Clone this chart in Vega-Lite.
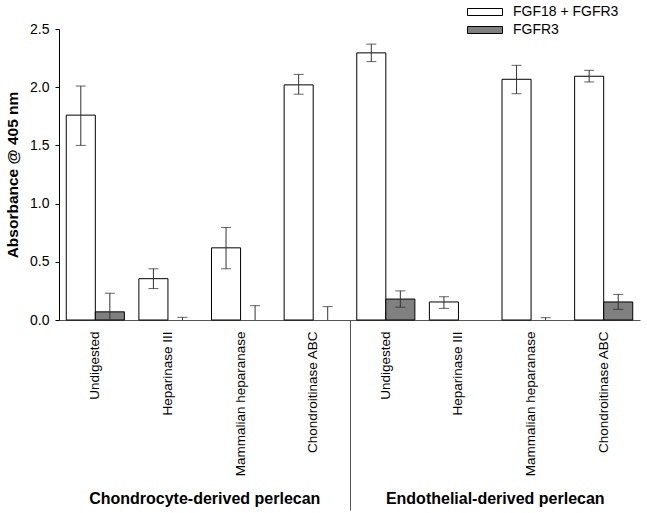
{
  "$schema": "https://vega.github.io/schema/vega-lite/v6.json",
  "config": {
    "font": "Liberation Sans",
    "view": {"stroke": null},
    "axis": {"grid": false, "labelColor": "black", "titleColor": "black"}
  },
  "layer": [
    {
      "data": {
        "values": [
          {"cat": "C|Undigested", "group": "Chondrocyte-derived perlecan", "treatment": "Undigested", "series": "FGF18 + FGFR3", "value": 1.76, "lo": 1.50, "hi": 2.01},
          {"cat": "C|Undigested", "group": "Chondrocyte-derived perlecan", "treatment": "Undigested", "series": "FGFR3", "value": 0.07, "lo": 0, "hi": 0.23},
          {"cat": "C|Heparinase III", "group": "Chondrocyte-derived perlecan", "treatment": "Heparinase III", "series": "FGF18 + FGFR3", "value": 0.355, "lo": 0.27, "hi": 0.44},
          {"cat": "C|Heparinase III", "group": "Chondrocyte-derived perlecan", "treatment": "Heparinase III", "series": "FGFR3", "value": 0, "lo": 0, "hi": 0.023},
          {"cat": "C|Mammalian heparanase", "group": "Chondrocyte-derived perlecan", "treatment": "Mammalian heparanase", "series": "FGF18 + FGFR3", "value": 0.62, "lo": 0.44, "hi": 0.795},
          {"cat": "C|Mammalian heparanase", "group": "Chondrocyte-derived perlecan", "treatment": "Mammalian heparanase", "series": "FGFR3", "value": 0, "lo": 0, "hi": 0.123},
          {"cat": "C|Chondroitinase ABC", "group": "Chondrocyte-derived perlecan", "treatment": "Chondroitinase ABC", "series": "FGF18 + FGFR3", "value": 2.02, "lo": 1.94, "hi": 2.11},
          {"cat": "C|Chondroitinase ABC", "group": "Chondrocyte-derived perlecan", "treatment": "Chondroitinase ABC", "series": "FGFR3", "value": 0, "lo": 0, "hi": 0.115},
          {"cat": "E|Undigested", "group": "Endothelial-derived perlecan", "treatment": "Undigested", "series": "FGF18 + FGFR3", "value": 2.295, "lo": 2.22, "hi": 2.37},
          {"cat": "E|Undigested", "group": "Endothelial-derived perlecan", "treatment": "Undigested", "series": "FGFR3", "value": 0.18, "lo": 0.11, "hi": 0.25},
          {"cat": "E|Heparinase III", "group": "Endothelial-derived perlecan", "treatment": "Heparinase III", "series": "FGF18 + FGFR3", "value": 0.155, "lo": 0.10, "hi": 0.20},
          {"cat": "E|Heparinase III", "group": "Endothelial-derived perlecan", "treatment": "Heparinase III", "series": "FGFR3", "value": 0, "lo": null, "hi": null},
          {"cat": "E|Mammalian heparanase", "group": "Endothelial-derived perlecan", "treatment": "Mammalian heparanase", "series": "FGF18 + FGFR3", "value": 2.068, "lo": 1.944, "hi": 2.188},
          {"cat": "E|Mammalian heparanase", "group": "Endothelial-derived perlecan", "treatment": "Mammalian heparanase", "series": "FGFR3", "value": 0, "lo": 0, "hi": 0.02},
          {"cat": "E|Chondroitinase ABC", "group": "Endothelial-derived perlecan", "treatment": "Chondroitinase ABC", "series": "FGF18 + FGFR3", "value": 2.094, "lo": 2.045, "hi": 2.145},
          {"cat": "E|Chondroitinase ABC", "group": "Endothelial-derived perlecan", "treatment": "Chondroitinase ABC", "series": "FGFR3", "value": 0.155, "lo": 0.092, "hi": 0.22}
        ]
      },
      "width": 581,
      "height": 291,
      "encoding": {
        "x": {
          "field": "cat", "type": "nominal", "sort": null,
          "scale": {"paddingInner": 0.2, "paddingOuter": 0.1},
          "axis": {
            "title": null, "orient": "bottom", "ticks": false,
            "labelAngle": -90, "labelFontSize": 13.5, "labelPadding": 11,
            "labelExpr": "split(datum.value, '|')[1]",
            "domainColor": "#555", "domainWidth": 1
          }
        },
        "xOffset": {"field": "series", "type": "nominal", "sort": ["FGF18 + FGFR3", "FGFR3"], "scale": {"paddingInner": 0, "paddingOuter": 0}},
        "y": {
          "type": "quantitative",
          "scale": {"domain": [0, 2.5], "nice": false},
          "axis": {
            "title": "Absorbance @ 405 nm",
            "values": [0, 0.5, 1, 1.5, 2, 2.5], "format": ".1f",
            "tickSize": 4, "labelPadding": 6, "labelFontSize": 14,
            "titleFontSize": 15.5, "titleFontWeight": "bold", "titlePadding": 9,
            "domainColor": "black", "tickColor": "black"
          }
        }
      },
      "layer": [
        {
          "transform": [{"filter": "datum.value > 0"}],
          "mark": {"type": "bar", "stroke": "black", "strokeWidth": 1},
          "encoding": {
            "y": {"field": "value", "type": "quantitative"},
            "fill": {
              "field": "series", "type": "nominal",
              "scale": {"domain": ["FGF18 + FGFR3", "FGFR3"], "range": ["white", "#808080"]},
              "legend": {
                "title": null, "orient": "none", "legendX": 408, "legendY": -24,
                "padding": 0, "symbolType": "M-1,-0.2H1V0.2H-1Z", "symbolSize": 1225,
                "symbolStrokeColor": "black", "symbolStrokeWidth": 1,
                "clipHeight": 14, "rowPadding": 4, "labelOffset": 10,
                "labelFontSize": 14, "labelColor": "black"
              }
            }
          }
        },
        {
          "transform": [{"filter": "datum.hi != null"}],
          "mark": {"type": "rule", "color": "#333", "strokeWidth": 1},
          "encoding": {
            "y": {"field": "lo", "type": "quantitative"},
            "y2": {"field": "hi"}
          }
        },
        {
          "transform": [{"filter": "datum.hi != null"}],
          "mark": {"type": "tick", "color": "#222", "size": 10, "thickness": 1},
          "encoding": {
            "y": {"field": "hi", "type": "quantitative"}
          }
        },
        {
          "transform": [{"filter": "datum.lo > 0"}],
          "mark": {"type": "tick", "color": "#222", "size": 10, "thickness": 1},
          "encoding": {
            "y": {"field": "lo", "type": "quantitative"}
          }
        }
      ]
    },
    {
      "data": {
        "values": [
          {"group": "Chondrocyte-derived perlecan"},
          {"group": "Endothelial-derived perlecan"}
        ]
      },
      "width": 581,
      "height": 291,
      "mark": {"type": "point", "opacity": 0},
      "encoding": {
        "x": {
          "field": "group", "type": "nominal", "sort": null,
          "scale": {"paddingInner": 0, "paddingOuter": 0},
          "axis": {
            "title": null, "orient": "bottom", "domain": false,
            "ticks": true, "tickSize": 190, "tickOffset": 145.25,
            "tickColor": {"condition": {"test": "datum.value === 'Chondrocyte-derived perlecan'", "value": "#555"}, "value": "transparent"},
            "labelOffset": -145.25, "labelPadding": -20, "labelLimit": 500,
            "labelAngle": 0, "labelFontSize": 16, "labelFontWeight": "bold"
          }
        }
      }
    }
  ],
  "resolve": {"scale": {"x": "independent"}, "axis": {"x": "independent"}}
}
